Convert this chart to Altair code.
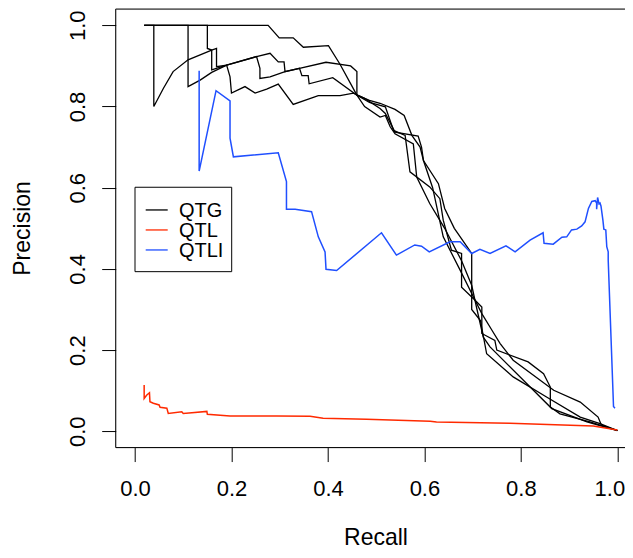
import altair as alt
import pandas as pd

# ---- QTG curves (black) ----
qtg_t_recall = [0.019, 0.276, 0.299, 0.328, 0.349, 0.401, 0.425, 0.460, 0.486, 0.508, 0.539, 0.558, 0.574, 0.591, 0.598, 0.629, 0.642, 0.662, 0.698, 0.698, 0.716, 0.729, 0.784, 0.854, 0.923, 0.964, 1.0]
qtg_t_prec = [1.0, 1.0, 0.969, 0.969, 0.946, 0.950, 0.904, 0.828, 0.815, 0.808, 0.793, 0.778, 0.729, 0.700, 0.667, 0.610, 0.549, 0.500, 0.438, 0.300, 0.273, 0.191, 0.134, 0.084, 0.035, 0.019, 0.002]

qtg_a_recall = [0.019, 0.039, 0.039, 0.059, 0.079, 0.110, 0.159, 0.169, 0.169, 0.190, 0.252, 0.280, 0.297, 0.309, 0.311, 0.341, 0.396, 0.447, 0.460, 0.460, 0.486, 0.519, 0.536, 0.560, 0.570, 0.611, 0.632, 0.639, 0.656, 0.677, 0.677, 0.705, 0.719, 0.719, 0.746, 0.750, 0.815, 0.847, 0.861, 0.861, 0.881, 0.943, 1.0]
qtg_a_prec = [1.0, 1.0, 0.800, 0.845, 0.886, 0.915, 0.939, 0.943, 0.898, 0.902, 0.923, 0.931, 0.910, 0.910, 0.886, 0.894, 0.909, 0.900, 0.886, 0.828, 0.810, 0.799, 0.741, 0.729, 0.639, 0.602, 0.573, 0.520, 0.446, 0.438, 0.355, 0.323, 0.306, 0.241, 0.224, 0.200, 0.171, 0.142, 0.109, 0.060, 0.043, 0.023, 0.002]

qtg_b_recall = [0.019, 0.110, 0.110, 0.135, 0.159, 0.190, 0.197, 0.200, 0.228, 0.249, 0.273, 0.297, 0.328, 0.380, 0.425, 0.453, 0.476, 0.508, 0.519, 0.539, 0.587, 0.594, 0.598, 0.617, 0.639, 0.674, 0.705, 0.719, 0.740, 0.757, 0.784, 0.868, 0.923, 0.960, 0.967, 1.0]
qtg_b_prec = [1.0, 1.0, 0.849, 0.865, 0.884, 0.902, 0.873, 0.833, 0.849, 0.833, 0.843, 0.855, 0.805, 0.827, 0.827, 0.833, 0.820, 0.795, 0.783, 0.737, 0.727, 0.700, 0.667, 0.600, 0.479, 0.397, 0.323, 0.290, 0.249, 0.216, 0.175, 0.101, 0.072, 0.035, 0.015, 0.002]

qtg_c_recall = [0.019, 0.150, 0.150, 0.159, 0.159, 0.190, 0.252, 0.259, 0.259, 0.280, 0.311, 0.341, 0.346, 0.359, 0.361, 0.410, 0.460, 0.476, 0.508, 0.519, 0.529, 0.539, 0.577, 0.584, 0.611, 0.642, 0.677, 0.698, 0.709, 0.722, 0.736, 0.864, 0.937, 1.0]
qtg_c_prec = [1.0, 1.0, 0.943, 0.939, 0.890, 0.902, 0.923, 0.894, 0.869, 0.873, 0.886, 0.894, 0.876, 0.876, 0.856, 0.871, 0.828, 0.800, 0.774, 0.778, 0.750, 0.733, 0.708, 0.626, 0.561, 0.500, 0.420, 0.360, 0.300, 0.232, 0.208, 0.056, 0.023, 0.002]

# ---- QTL (red) ----
qtl_recall = [0.019, 0.019, 0.024, 0.030, 0.031, 0.038, 0.050, 0.052, 0.066, 0.069, 0.097, 0.100, 0.118, 0.149, 0.150, 0.197, 0.294, 0.363, 0.390, 0.480, 0.612, 0.625, 0.777, 0.950, 1.0]
qtl_prec = [0.114, 0.081, 0.089, 0.095, 0.073, 0.069, 0.065, 0.059, 0.057, 0.044, 0.048, 0.044, 0.046, 0.049, 0.042, 0.038, 0.038, 0.037, 0.032, 0.030, 0.025, 0.023, 0.020, 0.013, 0.003]

# ---- QTLI (blue) ----
qtli_recall = [0.133, 0.133, 0.168, 0.197, 0.197, 0.204, 0.297, 0.314, 0.314, 0.332, 0.366, 0.380, 0.394, 0.396, 0.418, 0.511, 0.542, 0.580, 0.594, 0.610, 0.653, 0.674, 0.698, 0.715, 0.736, 0.769, 0.788, 0.819, 0.846, 0.848, 0.867, 0.885, 0.895, 0.905, 0.916, 0.926, 0.933, 0.940, 0.947, 0.954, 0.957, 0.957, 0.959, 0.962, 0.964, 0.966, 0.970, 0.972, 0.976, 0.978, 0.981, 0.981, 0.992, 0.995]
qtli_prec = [0.888, 0.641, 0.839, 0.814, 0.722, 0.676, 0.686, 0.615, 0.547, 0.547, 0.541, 0.479, 0.442, 0.399, 0.396, 0.489, 0.434, 0.459, 0.456, 0.442, 0.467, 0.467, 0.438, 0.448, 0.438, 0.457, 0.442, 0.471, 0.489, 0.463, 0.461, 0.478, 0.479, 0.496, 0.498, 0.506, 0.516, 0.549, 0.566, 0.568, 0.562, 0.547, 0.576, 0.560, 0.562, 0.555, 0.520, 0.498, 0.496, 0.455, 0.442, 0.422, 0.061, 0.057]

methods = ["QTG", "QTL", "QTLI"]
colors = ["#000000", "#ff2a00", "#1f4fff"]
ticks = [0.0, 0.2, 0.4, 0.6, 0.8, 1.0]

series = [
    ("QTG", "t", qtg_t_recall, qtg_t_prec),
    ("QTG", "a", qtg_a_recall, qtg_a_prec),
    ("QTG", "b", qtg_b_recall, qtg_b_prec),
    ("QTG", "c", qtg_c_recall, qtg_c_prec),
    ("QTL", "r", qtl_recall, qtl_prec),
    ("QTLI", "l", qtli_recall, qtli_prec),
]
rows = []
for m, cid, rs, ps in series:
    for i, (r, p) in enumerate(zip(rs, ps)):
        rows.append({"recall": r, "precision": p, "method": m, "curve": m + cid, "idx": i})
df = pd.DataFrame(rows)

FONT = "Liberation Sans"
W = 509.3
H = 438.5

x = alt.X("recall:Q", scale=alt.Scale(domain=[-0.04, 1.0158], nice=False, zero=False),
          axis=alt.Axis(values=ticks, format=".1f", title="Recall", grid=False, domain=False,
                        tickSize=14, tickColor="black", tickWidth=1,
                        labelFont=FONT, labelFontSize=22, labelColor="black", labelPadding=17,
                        labelFlush=False, labelOverlap=False,
                        labelOffset={"condition": {"test": "datum.value == 1", "value": -8}, "value": 0},
                        titleFont=FONT, titleFontSize=23, titleFontWeight="normal", titleColor="black",
                        titleX=259.8, titleY=97.2, titleBaseline="alphabetic", titleAlign="center"))
y = alt.Y("precision:Q", scale=alt.Scale(domain=[-0.04, 1.04], nice=False, zero=False),
          axis=alt.Axis(values=ticks, format=".1f", title="Precision", grid=False, domain=False,
                        tickSize=14, tickColor="black", tickWidth=1,
                        labelFont=FONT, labelFontSize=22, labelColor="black", labelPadding=17.5,
                        labelAngle=270, labelAlign="center", labelBaseline="alphabetic",
                        labelFlush=False, labelOverlap=False,
                        titleFont=FONT, titleFontSize=23, titleFontWeight="normal", titleColor="black",
                        titleAngle=270, titleX=-93.7, titleY=218.9, titleBaseline="middle", titleAlign="center"))
color = alt.Color("method:N", scale=alt.Scale(domain=methods, range=colors), legend=None)

one = pd.DataFrame({"k": [0]})

# frame (left, top, bottom; the right edge lies off-page in the reference)
frame = [
    alt.Chart(one).mark_rule(color="black", strokeWidth=1).encode(x=alt.value(0), x2=alt.value(W), y=alt.value(0)),
    alt.Chart(one).mark_rule(color="black", strokeWidth=1).encode(x=alt.value(0), x2=alt.value(W), y=alt.value(H)),
    alt.Chart(one).mark_rule(color="black", strokeWidth=1).encode(x=alt.value(0), y=alt.value(0), y2=alt.value(H)),
]

layers = []
for m in methods:
    layers.append(
        alt.Chart(df[df.method == m]).mark_line(strokeWidth=1.3 if m == "QTG" else 1.5).encode(
            x=x, y=y, color=color, detail="curve:N", order="idx:Q"
        )
    )

# legend box drawn by hand (R style)
leg = [alt.Chart(one).mark_rect(fill="white", stroke="black", strokeWidth=1).encode(
    x=alt.value(19.3), x2=alt.value(116), y=alt.value(178.2), y2=alt.value(262.6))]
for i, (m, c) in enumerate(zip(methods, colors)):
    yy = 200.9 + 20 * i
    leg.append(alt.Chart(one).mark_rule(color=c, strokeWidth=1.3).encode(
        x=alt.value(30), x2=alt.value(52), y=alt.value(yy)))
    leg.append(alt.Chart(one).mark_text(text=m, font=FONT, fontSize=20, color="black",
                                        align="left", baseline="middle").encode(
        x=alt.value(63.3), y=alt.value(yy + 1)))

chart = alt.layer(*layers, *frame, *leg).properties(
    width=W, height=H,
    autosize=alt.AutoSizeParams(type="none"),
    padding={"left": 107.7, "top": 1.06, "right": 0, "bottom": 102.4},
).configure_view(stroke=None).configure(background="white")

chart.save("out.html", embed_options={"renderer": "svg", "actions": False})
